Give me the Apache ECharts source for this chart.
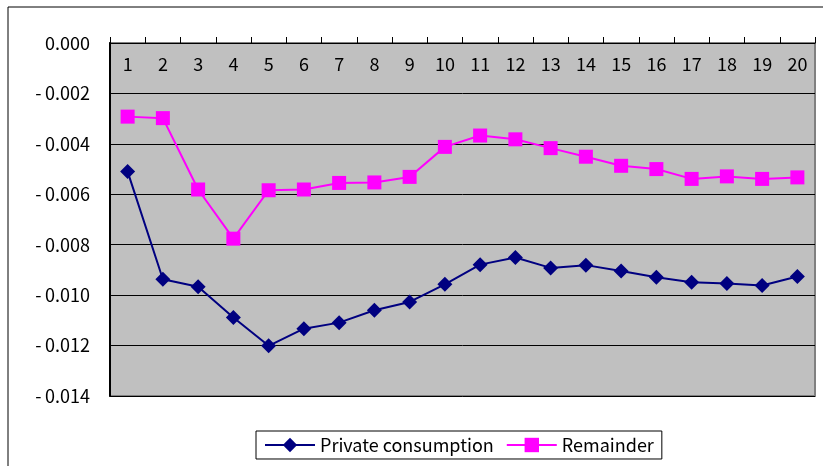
<!DOCTYPE html>
<html>
<head>
<meta charset="utf-8">
<script src="https://cdn.jsdelivr.net/npm/echarts@6/dist/echarts.min.js"></script>
<style>
  html, body { margin: 0; padding: 0; background: #fff; }
  #chart { width: 823px; height: 466px; }
</style>
</head>
<body>
<div id="chart"></div>
<script>
// periods 1..20
const periods = ["1", "2", "3", "4", "5", "6", "7", "8", "9", "10",
  "11", "12", "13", "14", "15", "16", "17", "18", "19", "20"];

const privateConsumption = [-0.0051, -0.00937, -0.00967, -0.01089, -0.01201, -0.01133, -0.01109, -0.0106, -0.01027, -0.00957,
  -0.00879, -0.00851, -0.00892, -0.00881, -0.00904, -0.00929, -0.00949, -0.00954, -0.00962, -0.00926];

const remainder = [-0.00292, -0.00298, -0.00581, -0.00776, -0.00584, -0.00581, -0.00555, -0.00553, -0.00531, -0.00412,
  -0.00367, -0.00382, -0.00417, -0.00451, -0.00487, -0.005, -0.00539, -0.00529, -0.00539, -0.00533];

const yTicks = { min: -0.014, max: 0, step: 0.002 };

const font = "Noto Sans CJK JP";
const myChart = echarts.init(document.getElementById("chart"));

const option = {
  animation: false,
  backgroundColor: "#fff",
  textStyle: { fontFamily: font },
  graphic: [
    {
      type: "rect",
      shape: { x: 8, y: 7, width: 830, height: 470 },
      style: { fill: "none", stroke: "#000", lineWidth: 1 },
      silent: true
    }
  ],
  grid: {
    left: 110,
    top: 43,
    right: 8,
    bottom: 70,
    show: true,
    backgroundColor: "#C0C0C0",
    borderColor: "#808080",
    borderWidth: 2
  },
  legend: {
    left: 256,
    top: 431,
    padding: [5, 8, 5, 8],
    borderColor: "#000",
    borderWidth: 1,
    itemWidth: 50,
    itemHeight: 18,
    itemGap: 12,
    textStyle: { fontFamily: font, fontSize: 18, color: "#000" },
    data: ["Private consumption", "Remainder"]
  },
  xAxis: {
    type: "category",
    position: "top",
    data: periods,
    boundaryGap: true,
    axisLine: { onZero: false, lineStyle: { color: "#000", width: 1 } },
    axisTick: { show: true, inside: false, length: 6, lineStyle: { color: "#000" } },
    axisLabel: {
      inside: true,
      margin: 12,
      fontFamily: font,
      fontSize: 18,
      color: "#000"
    },
    splitLine: { show: false }
  },
  yAxis: {
    type: "value",
    min: yTicks.min,
    max: yTicks.max,
    interval: yTicks.step,
    axisLine: { show: true, lineStyle: { color: "#000", width: 2 } },
    axisTick: { show: false },
    axisLabel: {
      margin: 20,
      fontFamily: font,
      fontSize: 18,
      color: "#000",
      formatter: function (v) {
        return v < 0 ? "-\u2009" + Math.abs(v).toFixed(3) : v.toFixed(3);
      }
    },
    splitLine: { show: true, lineStyle: { color: "#000", width: 1 } }
  },
  series: [
    {
      name: "Private consumption",
      type: "line",
      data: privateConsumption,
      symbol: "diamond",
      symbolSize: 15,
      itemStyle: { color: "#000080" },
      lineStyle: { color: "#000080", width: 2 }
    },
    {
      name: "Remainder",
      type: "line",
      data: remainder,
      symbol: "rect",
      symbolSize: 14,
      itemStyle: { color: "#FF00FF" },
      lineStyle: { color: "#FF00FF", width: 2 }
    }
  ]
};

myChart.setOption(option);
window.addEventListener("resize", function () { myChart.resize(); });
</script>
</body>
</html>
